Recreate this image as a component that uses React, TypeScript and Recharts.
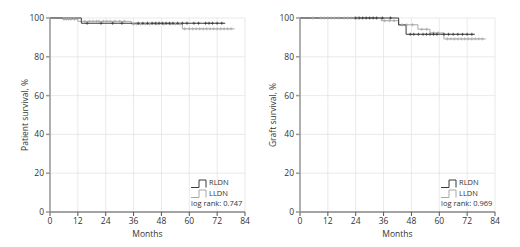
import React from "react";
import {
  ComposedChart,
  Line,
  Scatter,
  XAxis,
  YAxis,
  CartesianGrid,
} from "recharts";

// months on the x axis, survival % on the y axis
const monthTicks = [0, 12, 24, 36, 48, 60, 72, 84];
const pctTicks = [0, 20, 40, 60, 80, 100];

// patient survival, step points
const patientRldn = [
  { t: 0, s: 100 },
  { t: 13.5, s: 97.3 },
  { t: 75.5, s: 97.3 },
];
const patientLldn = [
  { t: 0, s: 100 },
  { t: 5.5, s: 99.4 },
  { t: 12, s: 98.3 },
  { t: 35, s: 96.9 },
  { t: 57, s: 94.4 },
  { t: 79.5, s: 94.4 },
];
// censored observations
const patientRldnCens = [
  { t: 16, s: 97.3 }, { t: 22, s: 97.3 }, { t: 27, s: 97.3 }, { t: 31, s: 97.3 },
  { t: 38, s: 97.3 }, { t: 40, s: 97.3 }, { t: 42, s: 97.3 }, { t: 44, s: 97.3 },
  { t: 45.5, s: 97.3 }, { t: 47, s: 97.3 }, { t: 48.5, s: 97.3 }, { t: 50, s: 97.3 },
  { t: 51.5, s: 97.3 }, { t: 53, s: 97.3 }, { t: 55, s: 97.3 }, { t: 57, s: 97.3 },
  { t: 59, s: 97.3 }, { t: 62, s: 97.3 }, { t: 64, s: 97.3 }, { t: 67, s: 97.3 },
  { t: 68.5, s: 97.3 }, { t: 70, s: 97.3 }, { t: 72, s: 97.3 }, { t: 74, s: 97.3 },
];
const patientLldnCens = [
  { t: 6, s: 99.4 }, { t: 7, s: 99.4 }, { t: 8, s: 99.4 }, { t: 9, s: 99.4 }, { t: 10.5, s: 99.4 },
  { t: 15, s: 98.3 }, { t: 17, s: 98.3 }, { t: 18.5, s: 98.3 }, { t: 20, s: 98.3 },
  { t: 21, s: 98.3 }, { t: 23, s: 98.3 }, { t: 24.5, s: 98.3 }, { t: 26, s: 98.3 },
  { t: 28, s: 98.3 }, { t: 30, s: 98.3 }, { t: 32, s: 98.3 },
  { t: 36, s: 96.9 }, { t: 37.5, s: 96.9 }, { t: 39, s: 96.9 }, { t: 41, s: 96.9 },
  { t: 43, s: 96.9 }, { t: 46, s: 96.9 }, { t: 49, s: 96.9 }, { t: 52, s: 96.9 },
  { t: 54, s: 96.9 }, { t: 56, s: 96.9 },
  { t: 58, s: 94.4 }, { t: 60, s: 94.4 }, { t: 61.5, s: 94.4 }, { t: 63, s: 94.4 },
  { t: 64.5, s: 94.4 }, { t: 66, s: 94.4 }, { t: 67.5, s: 94.4 }, { t: 69, s: 94.4 },
  { t: 70.5, s: 94.4 }, { t: 72, s: 94.4 }, { t: 73.5, s: 94.4 }, { t: 75, s: 94.4 },
  { t: 76.5, s: 94.4 }, { t: 78, s: 94.4 },
];

// graft survival, step points
const graftRldn = [
  { t: 0, s: 100 },
  { t: 42.5, s: 96.4 },
  { t: 45.7, s: 91.6 },
  { t: 75.3, s: 91.6 },
];
const graftLldn = [
  { t: 0, s: 100 },
  { t: 35, s: 98.6 },
  { t: 42.5, s: 96.5 },
  { t: 50.8, s: 94.2 },
  { t: 56, s: 92.3 },
  { t: 62, s: 89.2 },
  { t: 80, s: 89.2 },
];
const graftRldnCens = [
  { t: 24, s: 100 }, { t: 25.5, s: 100 }, { t: 27, s: 100 }, { t: 28.5, s: 100 },
  { t: 30, s: 100 }, { t: 31.5, s: 100 }, { t: 33, s: 100 }, { t: 35.5, s: 100 },
  { t: 39, s: 100 },
  { t: 47.5, s: 91.6 }, { t: 49, s: 91.6 }, { t: 51, s: 91.6 }, { t: 53, s: 91.6 },
  { t: 54.5, s: 91.6 }, { t: 56, s: 91.6 }, { t: 57.5, s: 91.6 }, { t: 59, s: 91.6 },
  { t: 62, s: 91.6 }, { t: 64, s: 91.6 }, { t: 66, s: 91.6 }, { t: 68, s: 91.6 },
  { t: 70, s: 91.6 }, { t: 72, s: 91.6 }, { t: 74, s: 91.6 },
];
const graftLldnCens = [
  { t: 5.5, s: 100 }, { t: 9, s: 100 }, { t: 10.5, s: 100 }, { t: 12, s: 100 },
  { t: 13.5, s: 100 }, { t: 15, s: 100 }, { t: 16.5, s: 100 }, { t: 19, s: 100 },
  { t: 20.5, s: 100 }, { t: 22, s: 100 }, { t: 23.5, s: 100 }, { t: 25, s: 100 },
  { t: 36.5, s: 98.6 }, { t: 38.5, s: 98.6 }, { t: 40.5, s: 98.6 },
  { t: 44, s: 96.5 }, { t: 46, s: 96.5 }, { t: 48.5, s: 96.5 },
  { t: 52.5, s: 94.2 }, { t: 54.5, s: 94.2 },
  { t: 57.5, s: 92.3 }, { t: 59.5, s: 92.3 },
  { t: 63.5, s: 89.2 }, { t: 65, s: 89.2 }, { t: 66.5, s: 89.2 }, { t: 68, s: 89.2 },
  { t: 69.5, s: 89.2 }, { t: 71, s: 89.2 }, { t: 72.5, s: 89.2 }, { t: 74, s: 89.2 },
  { t: 75.5, s: 89.2 }, { t: 77, s: 89.2 }, { t: 78.5, s: 89.2 },
];

const DARK = "#3a3a3a";
const LIGHT = "#a8a8a8";
const FONT = "'Open Sans', 'DejaVu Sans', sans-serif";

const plusShape = (color: string) => (props: any) => {
  const { cx, cy } = props;
  return (
    <path
      d={`M${cx - 1.5},${cy}H${cx + 1.5}M${cx},${cy - 1.5}V${cy + 1.5}`}
      stroke={color}
      strokeWidth={0.8}
      fill="none"
    />
  );
};

function StepIcon({ color }: { color: string }) {
  return (
    <svg width={16} height={9} style={{ verticalAlign: "middle", marginRight: 2 }}>
      <path d="M0,8.5H8V1H15V8.5" stroke={color} strokeWidth={1} fill="none" />
    </svg>
  );
}

function KMLegend({ pval, left }: { pval: string; left: number }) {
  return (
    <div
      style={{
        position: "absolute",
        left,
        top: 177,
        fontFamily: FONT,
        fontSize: 7.5,
        color: "#333",
        lineHeight: "10px",
      }}
    >
      <div><StepIcon color={DARK} />RLDN</div>
      <div><StepIcon color={LIGHT} />LLDN</div>
      <div>log rank: {pval}</div>
    </div>
  );
}

interface KMProps {
  yLabel: string;
  rldn: { t: number; s: number }[];
  lldn: { t: number; s: number }[];
  rldnCens: { t: number; s: number }[];
  lldnCens: { t: number; s: number }[];
  yAxisWidth: number;
  rightMargin: number;
  labelX: number;
  pval: string;
  legendLeft: number;
}

function KMChart(p: KMProps) {
  const tickStyle = { fontSize: 8.5, fill: "#333", fontFamily: FONT };
  return (
    <div style={{ position: "relative", width: 260, height: 247 }}>
      <ComposedChart
        width={260}
        height={247}
        margin={{ top: 18, right: p.rightMargin, bottom: 0, left: 0 }}
      >
        <CartesianGrid stroke="#e3e3e3" strokeWidth={0.8} />
        <XAxis
          type="number"
          dataKey="t"
          domain={[0, 84]}
          ticks={monthTicks}
          interval={0}
          height={35}
          tick={tickStyle}
          tickSize={4}
          stroke="#555"
          label={{ value: "Months", position: "insideBottom", offset: 10, style: { fontSize: 8.5, fill: "#333", fontFamily: FONT } }}
        />
        <YAxis
          type="number"
          dataKey="s"
          domain={[0, 100]}
          ticks={pctTicks}
          interval={0}
          width={p.yAxisWidth}
          tick={tickStyle}
          tickSize={4}
          stroke="#999"
          strokeWidth={1.5}
          label={(lp: any) => {
            const vb = lp.viewBox;
            const cx = vb.x + p.labelX;
            const cy = vb.y + vb.height / 2;
            return (
              <text
                x={cx}
                y={cy}
                transform={`rotate(-90 ${cx} ${cy})`}
                textAnchor="middle"
                dominantBaseline="central"
                fontSize={8.5}
                fill="#333"
                fontFamily={FONT}
              >
                {p.yLabel}
              </text>
            );
          }}
        />
        <Line
          data={p.lldn}
          dataKey="s"
          type="stepAfter"
          stroke={LIGHT}
          strokeWidth={1}
          dot={false}
          isAnimationActive={false}
        />
        <Line
          data={p.rldn}
          dataKey="s"
          type="stepAfter"
          stroke={DARK}
          strokeWidth={1}
          dot={false}
          isAnimationActive={false}
        />
        <Scatter data={p.lldnCens} dataKey="s" shape={plusShape(LIGHT)} isAnimationActive={false} />
        <Scatter data={p.rldnCens} dataKey="s" shape={plusShape(DARK)} isAnimationActive={false} />
      </ComposedChart>
      <KMLegend pval={p.pval} left={p.legendLeft} />
    </div>
  );
}

export default function App() {
  return (
    <div
      style={{
        position: "absolute",
        left: 0,
        top: 0,
        width: 520,
        height: 247,
        display: "flex",
        background: "#fff",
      }}
    >
      <KMChart
        yLabel="Patient survival, %"
        rldn={patientRldn}
        lldn={patientLldn}
        rldnCens={patientRldnCens}
        lldnCens={patientLldnCens}
        yAxisWidth={50}
        rightMargin={15}
        labelX={24}
        pval="0.747"
        legendLeft={191}
      />
      <KMChart
        yLabel="Graft survival, %"
        rldn={graftRldn}
        lldn={graftLldn}
        rldnCens={graftRldnCens}
        lldnCens={graftLldnCens}
        yAxisWidth={40}
        rightMargin={25}
        labelX={12}
        pval="0.969"
        legendLeft={181}
      />
    </div>
  );
}
